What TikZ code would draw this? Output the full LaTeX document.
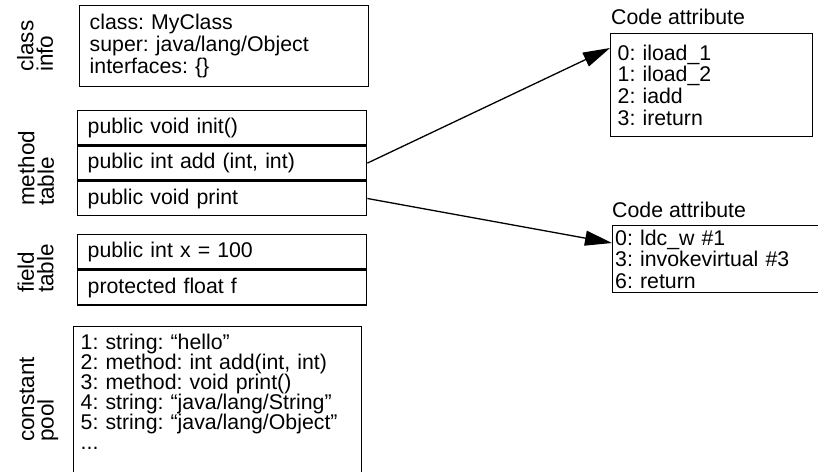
\documentclass[tikz,border=0pt]{standalone}
\usepackage{fontspec}
\setmainfont{Liberation Sans}
\usetikzlibrary{arrows.meta}
\frenchspacing
\newcommand\bodyfnt{\fontsize{21.3}{22}\selectfont\lineskiplimit=-100pt\frenchspacing}
\newcommand\codefnt{\fontsize{21.3}{21.7}\selectfont\lineskiplimit=-100pt\frenchspacing}
\newcommand\poolfnt{\fontsize{21.3}{20}\selectfont\lineskiplimit=-100pt\frenchspacing}
\newcommand\lblfnt{\fontsize{22.5}{19.5}\selectfont\lineskiplimit=-100pt}
\begin{document}
\begin{tikzpicture}[x=1pt,y=-1pt,
  box/.style={draw, line width=1.4pt, anchor=north west, align=left, inner ysep=0pt, font=\bodyfnt},
  rowbox/.style={box, inner xsep=10pt, text width=269pt, text height=15.5pt, text depth=4.5pt},
  lbl/.style={rotate=90, anchor=west, align=left, inner sep=0pt, font=\lblfnt},
  capt/.style={anchor=base west, inner sep=0pt, font=\bodyfnt},
  arr/.style={line width=1.3pt, -{Triangle[length=27pt,width=15pt]}}
]
\path[use as bounding box, fill=white] (0,0) rectangle (818,471);
\clip (0,0) rectangle (818,471);

% side labels
\node[lbl] (lci) at (35,72) {class\\info};
\node[lbl] (lmt) at (36,206) {method\\table};
\node[lbl] (lft) at (35.5,293) {field\\table};
\node[lbl] (lcp) at (39,442) {constant\\pool};

% class info
\node[box, inner xsep=10pt, text width=269pt, minimum height=81pt] (cls) at (79,5)
  {class: MyClass\\super: java/lang/Object\\interfaces: \{\}};

% method table
\node[rowbox, minimum height=34pt] (m1) at (77,110) {public void init()};
\node[rowbox, minimum height=34pt] (m2) at (m1.south west) {public int add (int, int)};
\node[rowbox, minimum height=34pt] (m3) at (m2.south west) {public void print};

% field table
\node[rowbox, minimum height=34pt] (f1) at (77,234) {public int x = 100};
\node[rowbox, minimum height=35pt] (f2) at (f1.south west) {protected float f};

% constant pool
\node[box, font=\poolfnt, inner xsep=7pt, inner ysep=7.5pt, text width=274pt] (pool) at (73,326)
  {1: string: “hello”\\2: method: int add(int, int)\\3: method: void print()\\4: string: “java/lang/String”\\5: string: “java/lang/Object”\\...\rule[-60pt]{0pt}{60pt}};

% code attributes
\node[capt] (cap1) at (611,24) {Code attribute};
\node[box, font=\codefnt, inner xsep=7pt, text width=188pt, minimum height=103pt] (code1) at (610,33)
  {0: iload\_1\\1: iload\_2\\2: iadd\\3: ireturn};
\node[capt] (cap2) at (612,217) {Code attribute};
\node[box, font=\codefnt, inner xsep=2.5pt, text width=225pt, minimum height=67pt] (code2) at (612,225)
  {0: ldc\_w \#1\\3: invokevirtual \#3\\6: return};

\coordinate (t1) at (610,48);
\coordinate (t2) at (612,243);
\draw[arr] (m2.east) -- (t1);
\draw[arr] (m3.east) -- (t2);
\end{tikzpicture}
\end{document}
